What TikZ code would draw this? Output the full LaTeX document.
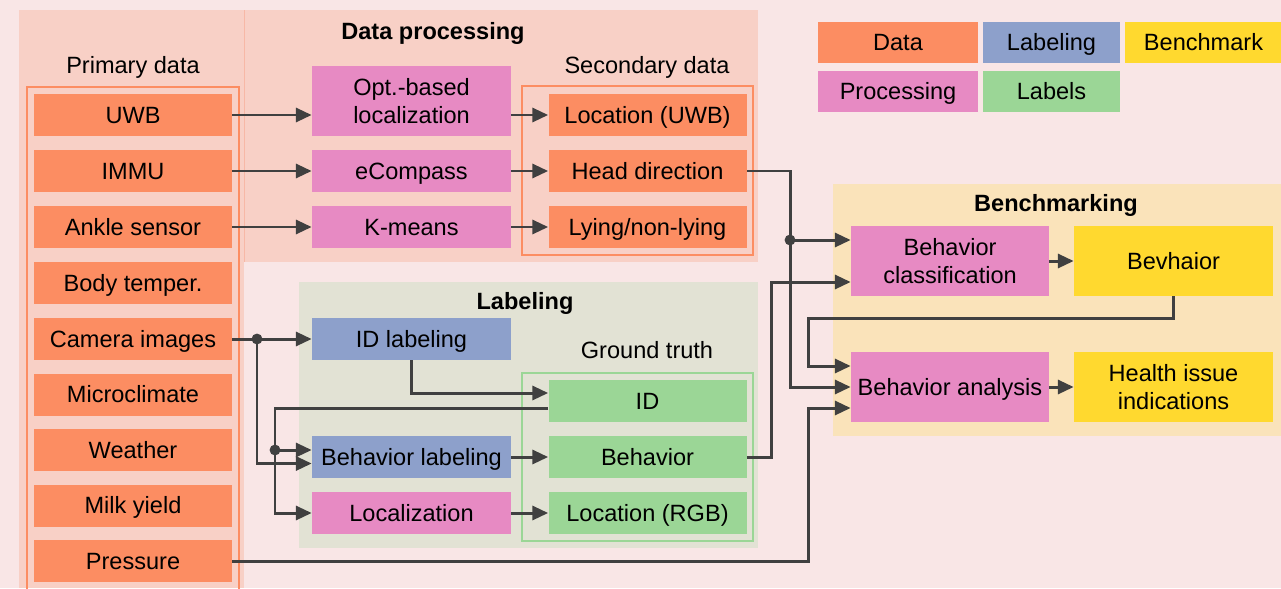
\documentclass[tikz,border=0pt]{standalone}
\usepackage{fontspec}
\setmainfont{Liberation Sans}
\usetikzlibrary{arrows.meta,calc}
\definecolor{bgC}{HTML}{F9E6E6}
\definecolor{panelC}{HTML}{F8D0C6}
\definecolor{panelLine}{HTML}{F7B8A6}
\definecolor{labPanelC}{HTML}{E2E2D4}
\definecolor{benchPanelC}{HTML}{FAE3BA}
\definecolor{dataC}{HTML}{FC8D62}
\definecolor{procC}{HTML}{E78AC3}
\definecolor{labC}{HTML}{8DA0CB}
\definecolor{lblC}{HTML}{9BD696}
\definecolor{benchC}{HTML}{FFD92F}
\definecolor{lineC}{HTML}{404040}
\tikzset{
  x=0.2mm, y=-0.2mm,
  txt/.style={font=\fontsize{13.4}{16}\selectfont, inner sep=0pt, align=center},
  one/.style={text height=9.6pt, text depth=0pt},
  ttl/.style={font=\fontsize{13.4}{16}\selectfont\bfseries, inner sep=0pt, one},
  box/.style={txt, one, rectangle, minimum width=39.6mm, minimum height=8.4mm},
  tallbox/.style={txt, rectangle, minimum width=39.6mm, minimum height=14mm},
  legbox/.style={txt, one, rectangle, minimum height=8.2mm},
  datab/.style={fill=dataC},
  procb/.style={fill=procC},
  labb/.style={fill=labC},
  lblb/.style={fill=lblC},
  benchb/.style={fill=benchC},
  conn/.style={draw=lineC, line width=1.7pt},
  arr/.style={conn, -{Triangle[length=9pt,width=8pt]}},
  dotc/.style={fill=lineC},
  outl/.style={line width=1.4pt}
}
\begin{document}
\begin{tikzpicture}
\useasboundingbox (0,0) rectangle (1281,588);
% backgrounds
\fill[bgC] (0,0) rectangle (1281,588);
\fill[panelC] (19,10) rectangle (244,588);
\fill[panelC] (244,10) rectangle (758,262);
\draw[panelLine, line width=0.5pt] (244,10) -- (244,262);
\fill[labPanelC] (299,282) rectangle (758,548);
\fill[benchPanelC] (833,184) rectangle (1281,436);
% outlines
\draw[dataC, outl] (27,87) rectangle (239,600);
\draw[dataC, outl] (522,86) rectangle (753,255);
\draw[lblC, outl] (522,373) rectangle (753,541);
% titles
\node[txt, one] (tprim) at (133,65) {Primary data};
\node[ttl] (tdp) at (433,31) {Data processing};
\node[txt, one] (tsec) at (647,65) {Secondary data};
\node[ttl] (tlab) at (525,301) {Labeling};
\node[txt, one] (tgt) at (647,350) {Ground truth};
\node[ttl] (tbench) at (1056,203) {Benchmarking};
% primary data
\node[box,datab] (uwb) at (133,115) {UWB};
\node[box,datab] (immu) at (133,171) {IMMU};
\node[box,datab] (ankle) at (133,227) {Ankle sensor};
\node[box,datab] (body) at (133,283) {Body temper.};
\node[box,datab] (cam) at (133,339) {Camera images};
\node[box,datab] (micro) at (133,394.5) {Microclimate};
\node[box,datab] (weather) at (133,450) {Weather};
\node[box,datab] (milk) at (133,505.5) {Milk yield};
\node[box,datab] (pres) at (133,561) {Pressure};
% processing
\node[tallbox,procb, minimum width=39.8mm] (opt) at (411.5,101) {Opt.-based\\localization};
\node[box,procb, minimum width=39.8mm] (ecomp) at (411.5,171) {eCompass};
\node[box,procb, minimum width=39.8mm] (kmeans) at (411.5,227) {K-means};
% secondary
\node[box,datab] (locuwb) at (647.5,115) {Location (UWB)};
\node[box,datab] (head) at (647.5,171) {Head direction};
\node[box,datab] (lying) at (647.5,227) {Lying/non-lying};
% labeling
\node[box,labb, minimum width=39.8mm] (idl) at (411.5,339) {ID labeling};
\node[box,labb, minimum width=39.8mm] (behl) at (411.5,457) {Behavior labeling};
\node[box,procb, minimum width=39.8mm] (locl) at (411.5,513) {Localization};
% ground truth
\node[box,lblb] (id) at (647.5,401) {ID};
\node[box,lblb] (beh) at (647.5,457) {Behavior};
\node[box,lblb] (locrgb) at (647.5,513) {Location (RGB)};
% benchmarking
\node[tallbox,procb] (bc) at (950,261) {Behavior\\classification};
\node[tallbox,benchb, one, minimum width=39.8mm] (bev) at (1173.5,261) {Bevhaior};
\node[tallbox,procb, one] (ba) at (950,387) {Behavior analysis};
\node[tallbox,benchb, minimum width=39.8mm] (health) at (1173.5,387) {Health issue\\indications};
% legend
\node[legbox,datab, minimum width=32mm] (lgdata) at (898,42.5) {Data};
\node[legbox,labb, minimum width=27.4mm] (lglab) at (1051.5,42.5) {Labeling};
\node[legbox,benchb, minimum width=31.4mm] (lgbench) at (1203.5,42.5) {Benchmark};
\node[legbox,procb, minimum width=32mm] (lgproc) at (898,91) {Processing};
\node[legbox,lblb, minimum width=27.4mm] (lglbl) at (1051.5,91) {Labels};
% connectors: primary -> processing -> secondary
\draw[arr] (uwb.east) -- (uwb.east -| opt.west);
\draw[arr] (immu.east) -- (ecomp.west);
\draw[arr] (ankle.east) -- (kmeans.west);
\draw[arr] (uwb.east -| opt.east) -- (locuwb.west);
\draw[arr] (ecomp.east) -- (head.west);
\draw[arr] (kmeans.east) -- (lying.west);
% camera
\coordinate (d1) at (257,339);
\draw[conn] (cam.east) -- (d1);
\draw[arr] (d1) -- (idl.west);
\draw[arr] (d1) |- ($(behl.west)+(0,6.5)$);
\fill[dotc] (d1) circle (3.1pt);
% ID labeling -> ID
\draw[arr] (idl.south) |- ($(id.west)+(0,-8)$);
% ID -> behavior labeling, localization
\coordinate (d2) at (275,450);
\draw[conn] ($(id.west)+(0,7)$) -| (d2);
\draw[arr] (d2) -- (d2 -| behl.west);
\draw[arr] (d2) |- (locl.west);
\fill[dotc] (d2) circle (3.1pt);
% labeling -> ground truth
\draw[arr] (behl.east) -- (beh.west);
\draw[arr] (locl.east) -- (locrgb.west);
% head direction -> benchmarking
\coordinate (d3) at (790,240);
\draw[conn] (head.east) -| (d3);
\draw[arr] (d3) -- (d3 -| bc.west);
\draw[arr] (d3) |- (ba.west);
\fill[dotc] (d3) circle (3.1pt);
% behavior -> classification
\coordinate (c0) at (771,282);
\draw[arr] (beh.east) -| (c0) -- (c0 -| bc.west);
% bevhaior -> analysis
\coordinate (c1) at (808,318);
\draw[arr] (bev.south) |- (c1) |- ($(ba.west)+(0,-21)$);
% pressure -> analysis
\coordinate (c2) at (808,408);
\draw[arr] (pres.east) -| (c2) -- (c2 -| ba.west);
% benchmark internal
\draw[arr] (bc.east) -- (bev.west);
\draw[arr] (ba.east) -- (health.west);
\end{tikzpicture}
\end{document}
